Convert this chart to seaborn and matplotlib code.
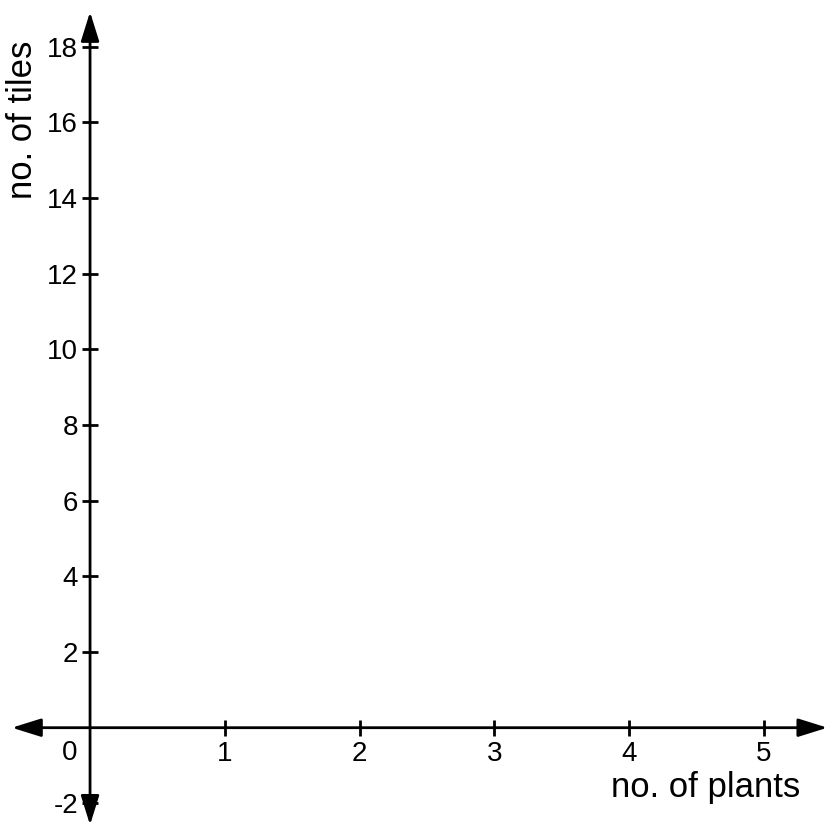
import matplotlib
matplotlib.use("Agg")
import matplotlib.pyplot as plt
import seaborn as sns

# Axis ranges and ticks
x_ticks = [1, 2, 3, 4, 5]
x_tick_labels = ["1", "2", "3", "4", "5"]
y_ticks = [-2, 2, 4, 6, 8, 10, 12, 14, 16, 18]
y_tick_labels = ["-2", "2", "4", "6", "8", "10", "12", "14", "16", "18"]
x_label = "no. of plants"
y_label = "no. of tiles"

x_view = (-0.668, 5.467)
y_view = (-2.625, 19.236)
x_arrow = (-0.58, 5.47)
y_arrow = (-2.57, 18.92)

sns.set_style("white")
plt.rcParams["font.family"] = ["Liberation Sans", "DejaVu Sans"]

fig = plt.figure(figsize=(8.27, 8.27), dpi=100)
ax = fig.add_axes([0, 0, 1, 1])
ax.set_xlim(*x_view)
ax.set_ylim(*y_view)

# spines sit at zero so the ticks cross the axes there; the lines themselves are arrows
for side in ["left", "bottom"]:
    ax.spines[side].set_position(("data", 0))
for side in ["left", "bottom", "right", "top"]:
    ax.spines[side].set_visible(False)

arrow_kw = dict(arrowstyle="<|-|>,head_length=0.64,head_width=0.2", color="black",
                lw=2.0, mutation_scale=28, shrinkA=0, shrinkB=0)
ax.annotate("", xy=(x_arrow[1], 0), xytext=(x_arrow[0], 0), arrowprops=arrow_kw)
ax.annotate("", xy=(0, y_arrow[1]), xytext=(0, y_arrow[0]), arrowprops=arrow_kw)

ax.set_xticks(x_ticks)
ax.set_xticklabels(x_tick_labels)
ax.set_yticks(y_ticks)
ax.set_yticklabels(y_tick_labels)
ax.tick_params(axis="both", bottom=True, left=True, direction="inout",
               length=11, width=2.0, color="black", labelsize=20,
               labelcolor="black")
ax.tick_params(axis="x", pad=4)
ax.tick_params(axis="y", pad=3)

ax.annotate("0", xy=(0, 0), xytext=(-20, -25), textcoords="offset pixels",
            ha="center", va="center", fontsize=20, color="black")

ax.text(800 / 827, 1 - 797 / 827, x_label, transform=ax.transAxes,
        ha="right", va="baseline", fontsize=25, color="black")
ax.text(23 / 827, 1 - 120 / 827, y_label, transform=ax.transAxes,
        rotation=90, ha="center", va="center", fontsize=25, color="black")

fig.savefig("out.png", dpi=100)
